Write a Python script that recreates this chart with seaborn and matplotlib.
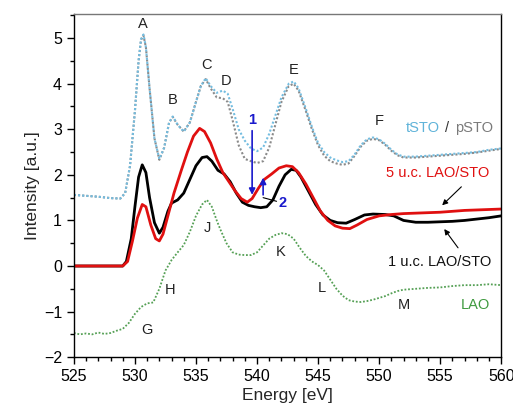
import matplotlib
matplotlib.use("Agg")
import matplotlib.pyplot as plt
import numpy as np
import pandas as pd
import seaborn as sns
from matplotlib.ticker import MultipleLocator

# tSTO (light blue) and pSTO (grey) spectra
sto_e = [525, 526, 527, 528, 528.8, 529.2, 529.6, 530, 530.3, 530.5, 530.7, 530.9, 531.2, 531.6, 532,
         532.4, 532.8, 533.1, 533.5, 534, 534.5, 535, 535.4, 535.8, 536.2, 536.7, 537.2, 537.6,
         538, 538.5, 539, 539.5, 540, 540.5, 541, 541.5, 542, 542.6, 543, 543.4, 544, 544.5,
         545, 545.5, 546, 546.5, 547, 547.5, 548, 548.5, 549, 549.5, 550, 550.5, 551, 551.5,
         552, 553, 554, 555, 556, 557, 558, 559, 560]
tsto = [1.56, 1.54, 1.52, 1.49, 1.48, 1.6, 2.2, 3.4, 4.5, 4.98, 5.08, 4.8, 3.9, 2.8, 2.35,
        2.6, 3.15, 3.28, 3.1, 2.95, 3.15, 3.6, 3.95, 4.12, 3.95, 3.8, 3.85, 3.78,
        3.45, 3.0, 2.75, 2.58, 2.52, 2.6, 2.9, 3.3, 3.7, 4.0, 4.05, 3.9, 3.45, 3.05,
        2.7, 2.5, 2.38, 2.32, 2.28, 2.3, 2.45, 2.65, 2.78, 2.82, 2.78, 2.68, 2.55, 2.45,
        2.4, 2.4, 2.42, 2.44, 2.46, 2.48, 2.5, 2.55, 2.58]
psto = [1.56, 1.54, 1.52, 1.49, 1.48, 1.6, 2.2, 3.4, 4.5, 4.96, 5.06, 4.8, 3.9, 2.8, 2.33,
        2.6, 3.15, 3.27, 3.1, 2.95, 3.15, 3.6, 3.95, 4.1, 3.9, 3.7, 3.68, 3.6,
        3.2, 2.65, 2.35, 2.3, 2.26, 2.3, 2.6, 3.1, 3.6, 3.95, 4.0, 3.85, 3.4, 3.0,
        2.65, 2.42, 2.3, 2.25, 2.22, 2.25, 2.42, 2.62, 2.75, 2.79, 2.76, 2.66, 2.53, 2.43,
        2.38, 2.38, 2.4, 2.42, 2.44, 2.46, 2.49, 2.53, 2.57]

# 1 u.c. LAO/STO (black)
uc1_e = [525, 526, 527, 528, 529, 529.3, 529.7, 530, 530.3, 530.6, 530.9, 531.2, 531.6, 532,
         532.3, 532.7, 533, 533.5, 534, 534.5, 535, 535.5, 535.9, 536.3, 536.8, 537.3, 537.8,
         538.3, 538.8, 539.3, 539.8, 540.3, 540.8, 541.3, 541.8, 542.3, 542.8, 543.2, 543.6,
         544.2, 544.8, 545.4, 546, 546.6, 547.3, 548, 548.8, 549.5, 550.5, 551.2, 552, 553,
         554, 555, 556, 557, 558, 559, 560]
uc1 = [0, 0, 0, 0, 0, 0.1, 0.6, 1.3, 1.95, 2.22, 2.05, 1.5, 0.95, 0.72,
       0.85, 1.2, 1.38, 1.45, 1.6, 1.9, 2.2, 2.38, 2.4, 2.3, 2.1, 2.02, 1.85,
       1.6, 1.4, 1.33, 1.3, 1.28, 1.3, 1.45, 1.75, 2.0, 2.12, 2.1, 1.95,
       1.65, 1.35, 1.12, 1.0, 0.95, 0.94, 1.02, 1.12, 1.14, 1.13, 1.1, 1.0, 0.96,
       0.96, 0.97, 0.98, 1.0, 1.03, 1.06, 1.1]

# 5 u.c. LAO/STO (red)
uc5_e = [525, 526, 527, 528, 529, 529.4, 529.8, 530.2, 530.6, 530.9, 531.3, 531.7, 532,
         532.3, 532.7, 533.2, 533.8, 534.3, 534.8, 535.3, 535.7, 536.2, 536.7, 537.2, 537.7,
         538.2, 538.7, 539.2, 539.6, 540.1, 540.6, 541.2, 541.8, 542.4, 542.9, 543.4, 544,
         544.6, 545.2, 545.8, 546.4, 547, 547.6, 548.2, 549, 550, 551, 552, 553, 554, 555,
         556, 557, 558, 559, 560]
uc5 = [0, 0, 0, 0, 0, 0.1, 0.55, 1.05, 1.35, 1.3, 0.9, 0.6, 0.55,
       0.7, 1.1, 1.6, 2.1, 2.5, 2.85, 3.02, 2.95, 2.7, 2.35, 2.05, 1.85,
       1.65, 1.48, 1.4, 1.48, 1.7, 1.9, 2.02, 2.15, 2.2, 2.18, 2.05, 1.8,
       1.5, 1.2, 1.0, 0.88, 0.83, 0.82, 0.9, 1.02, 1.1, 1.13, 1.15, 1.16, 1.17, 1.18,
       1.2, 1.22, 1.23, 1.24, 1.25]

# LAO (green)
lao_e = [525, 525.5, 526, 526.5, 527, 527.5, 528, 528.5, 529, 529.5, 530, 530.5, 531, 531.5,
         532, 532.5, 533, 533.5, 534, 534.5, 535, 535.5, 535.9, 536.3, 536.7, 537, 537.5,
         538, 538.5, 539, 539.5, 540, 540.5, 541, 541.5, 542, 542.5, 543, 543.5, 544, 544.5,
         545, 545.5, 546, 546.5, 547, 547.5, 548, 548.5, 549, 549.5, 550, 550.5, 551, 551.5,
         552, 553, 554, 555, 556, 557, 558, 559, 560]
lao = [-1.47, -1.5, -1.48, -1.5, -1.46, -1.49, -1.47, -1.42, -1.38, -1.25, -1.05, -0.9, -0.82, -0.8,
       -0.5, -0.1, 0.13, 0.3, 0.46, 0.75, 1.1, 1.35, 1.45, 1.3, 1.0, 0.8, 0.5,
       0.3, 0.25, 0.24, 0.24, 0.3, 0.45, 0.6, 0.68, 0.72, 0.7, 0.6, 0.4, 0.22, 0.1,
       0.02, -0.1, -0.3, -0.5, -0.65, -0.75, -0.78, -0.79, -0.77, -0.74, -0.7, -0.66, -0.6, -0.55,
       -0.52, -0.5, -0.48, -0.47, -0.44, -0.42, -0.42, -0.4, -0.42]

# peak letters
peak_labels = ["A", "B", "C", "D", "E", "F", "G", "H", "J", "K", "L", "M"]
peak_x = [530.65, 533.1, 535.9, 537.5, 543.0, 550.0, 531.0, 532.9, 535.9, 541.9, 545.3, 552.0]
peak_y = [5.32, 3.64, 4.4, 4.06, 4.3, 3.18, -1.4, -0.53, 0.83, 0.31, -0.48, -0.86]

sns.set_style("ticks")
plt.rcParams["font.family"] = ["Liberation Sans", "DejaVu Sans"]

fig = plt.figure(figsize=(5.13, 4.11), dpi=100)
ax = fig.add_axes([0.144, 0.131, 0.833, 0.835])

dots = (0, (1, 1))
sto_df = pd.DataFrame({"e": sto_e, "t": tsto, "p": psto})
sns.lineplot(data=sto_df, x="e", y="p", sort=False, ax=ax, color="#8a8a8a", lw=1.5, linestyle=dots)
sns.lineplot(data=sto_df, x="e", y="t", sort=False, ax=ax, color="#74bde0", lw=1.5, linestyle=dots)
sns.lineplot(x=lao_e, y=lao, sort=False, ax=ax, color="#55a055", lw=1.3, linestyle=dots)
sns.lineplot(x=uc1_e, y=uc1, sort=False, ax=ax, color="black", lw=2.0)
sns.lineplot(x=uc5_e, y=uc5, sort=False, ax=ax, color="#e01010", lw=2.0)

for lab, px, py in zip(peak_labels, peak_x, peak_y):
    ax.text(px, py, lab, ha="center", va="center", fontsize=10.5, color="#222222")

# labels of the spectra
ax.text(552.2, 3.03, "tSTO", color="#5fb3d9", fontsize=10.5, ha="left", va="center")
ax.text(555.4, 3.03, "/", color="#333333", fontsize=10.5, ha="left", va="center")
ax.text(556.2, 3.03, "pSTO", color="#7a7a7a", fontsize=10.5, ha="left", va="center")
ax.text(550.6, 2.04, "5 u.c. LAO/STO", color="#e01010", fontsize=10.5, ha="left", va="center")
ax.text(550.7, 0.09, "1 u.c. LAO/STO", color="#111111", fontsize=10.5, ha="left", va="center")
ax.text(557.9, -0.86, "LAO", color="#3f9a3f", fontsize=10.5, ha="center", va="center")

ax.annotate("", xy=(555.0, 1.29), xytext=(556.9, 1.78),
            arrowprops=dict(arrowstyle="-|>", color="black", lw=0.8, mutation_scale=8))
ax.annotate("", xy=(555.2, 0.86), xytext=(556.6, 0.35),
            arrowprops=dict(arrowstyle="-|>", color="black", lw=0.8, mutation_scale=8))

# blue arrows
ax.annotate("", xy=(539.6, 1.5), xytext=(539.6, 3.03),
            arrowprops=dict(arrowstyle="-|>", color="#1a1acc", lw=1.2, mutation_scale=9))
ax.text(539.6, 3.2, "1", color="#1a1acc", fontsize=10.5, fontweight="bold", ha="center", va="center")
ax.annotate("", xy=(540.5, 2.0), xytext=(540.5, 1.5),
            arrowprops=dict(arrowstyle="-|>", color="#1a1acc", lw=1.2, mutation_scale=9))
ax.plot([540.5, 541.6], [1.5, 1.42], color="black", lw=0.8)
ax.text(542.1, 1.38, "2", color="#1a1acc", fontsize=10.5, fontweight="bold", ha="center", va="center")

ax.set_xlim(525, 560)
ax.set_ylim(-2, 5.53)
ax.xaxis.set_major_locator(MultipleLocator(5))
ax.xaxis.set_minor_locator(MultipleLocator(1))
ax.yaxis.set_major_locator(MultipleLocator(1))
ax.yaxis.set_minor_locator(MultipleLocator(0.5))
ax.tick_params(which="major", direction="out", length=5, width=1, labelsize=11.5, colors="black")
ax.tick_params(which="minor", direction="out", length=3, width=1, colors="black")
ax.set_xlabel("Energy [eV]", fontsize=12.5, labelpad=3)
ax.set_ylabel("Intensity [a.u.]", fontsize=12.5, labelpad=3)
for side in ["left", "bottom", "right"]:
    ax.spines[side].set_color("black")
    ax.spines[side].set_linewidth(1.0)
ax.spines["top"].set_color("#777777")
ax.spines["top"].set_linewidth(1.0)

fig.savefig("out.png", dpi=100)
